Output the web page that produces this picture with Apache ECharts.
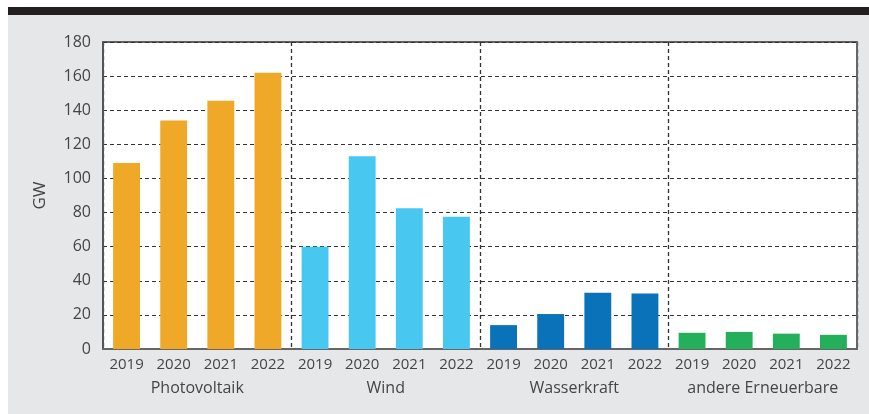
<!DOCTYPE html>
<html>
<head>
<meta charset="utf-8">
<script src="https://cdn.jsdelivr.net/npm/echarts@6/dist/echarts.min.js"></script>
<style>
  html, body { margin: 0; padding: 0; background: #ffffff; }
  #topbar { position: absolute; left: 8px; top: 7px; right: 0; height: 8px; background: #231f20; }
  #panel { position: absolute; left: 8px; top: 15px; right: 0; bottom: 0; background: #e6e7e9; }
  #chart { position: absolute; left: 0; top: 0; width: 869px; height: 414px; }
</style>
</head>
<body>
<div id="topbar"></div>
<div id="panel"></div>
<div id="chart"></div>
<script>
// Daten (GW)
const years = ['2019', '2020', '2021', '2022'];
const groups = ['Photovoltaik', 'Wind', 'Wasserkraft', 'andere Erneuerbare'];
const photovoltaik = [109, 134, 145.5, 162];
const wind = [60, 113, 82.5, 77.5];
const wasserkraft = [14, 20.5, 33, 32.5];
const andere = [9.5, 10, 9, 8.3];
const yTicks = [0, 20, 40, 60, 80, 100, 120, 140, 160, 180];

const groupColors = ['#f0a828', '#48c8f0', '#0a72b8', '#24b05a'];
const groupValues = [photovoltaik, wind, wasserkraft, andere];

// 16 Kategorien: je Gruppe vier Jahre
const categories = [];
const barData = [];
groupValues.forEach((vals, g) => {
  vals.forEach((v, i) => {
    categories.push(years[i]);
    barData.push({ value: v, itemStyle: { color: groupColors[g] } });
  });
});

const textColor = '#454545';
const fontFamily = '"Open Sans", "Noto Sans", sans-serif';

const chart = echarts.init(document.getElementById('chart'));

const option = {
  animation: false,
  backgroundColor: 'transparent',
  textStyle: { fontFamily: fontFamily },
  grid: {
    left: 103,
    right: 12,
    top: 42,
    bottom: 65,
    show: true,
    backgroundColor: '#ffffff',
    borderColor: '#333',
    borderWidth: 1.5
  },
  xAxis: [
    {
      type: 'category',
      data: categories,
      position: 'bottom',
      axisLine: { show: true, lineStyle: { color: '#666', width: 2 } },
      axisTick: { show: false },
      axisLabel: { color: textColor, fontSize: 15, margin: 8, interval: 0, fontFamily: fontFamily },
      splitLine: { show: false }
    },
    {
      type: 'category',
      data: groups,
      position: 'bottom',
      offset: 24,
      axisLine: { show: false },
      axisTick: { show: false },
      axisLabel: { color: textColor, fontSize: 16, margin: 7, interval: 0, fontFamily: fontFamily },
      splitLine: {
        show: true,
        interval: 0,
        lineStyle: { color: '#333', type: [4, 3], width: 1.3 }
      }
    }
  ],
  yAxis: [
    {
      type: 'value',
      min: 0,
      max: yTicks[yTicks.length - 1],
      interval: yTicks[1] - yTicks[0],
      name: 'GW',
      nameLocation: 'middle',
      nameGap: 54,
      nameRotate: 90,
      nameTextStyle: { color: textColor, fontSize: 17, fontFamily: fontFamily },
      axisLine: { show: true, lineStyle: { color: '#555', width: 2 } },
      axisTick: { show: false },
      axisLabel: { color: textColor, fontSize: 16, margin: 12, fontFamily: fontFamily },
      splitLine: { show: true, lineStyle: { color: '#333', type: [4, 3], width: 1.2 } }
    },
    {
      // rechter Rahmen
      type: 'value',
      position: 'right',
      min: 0,
      max: yTicks[yTicks.length - 1],
      interval: yTicks[1] - yTicks[0],
      axisLine: { show: true, lineStyle: { color: '#666', width: 2 } },
      axisTick: { show: false },
      axisLabel: { show: false },
      splitLine: { show: false }
    }
  ],
  series: [
    {
      type: 'bar',
      xAxisIndex: 0,
      yAxisIndex: 0,
      data: barData,
      barWidth: '57%'
    }
  ]
};

chart.setOption(option);
</script>
</body>
</html>
